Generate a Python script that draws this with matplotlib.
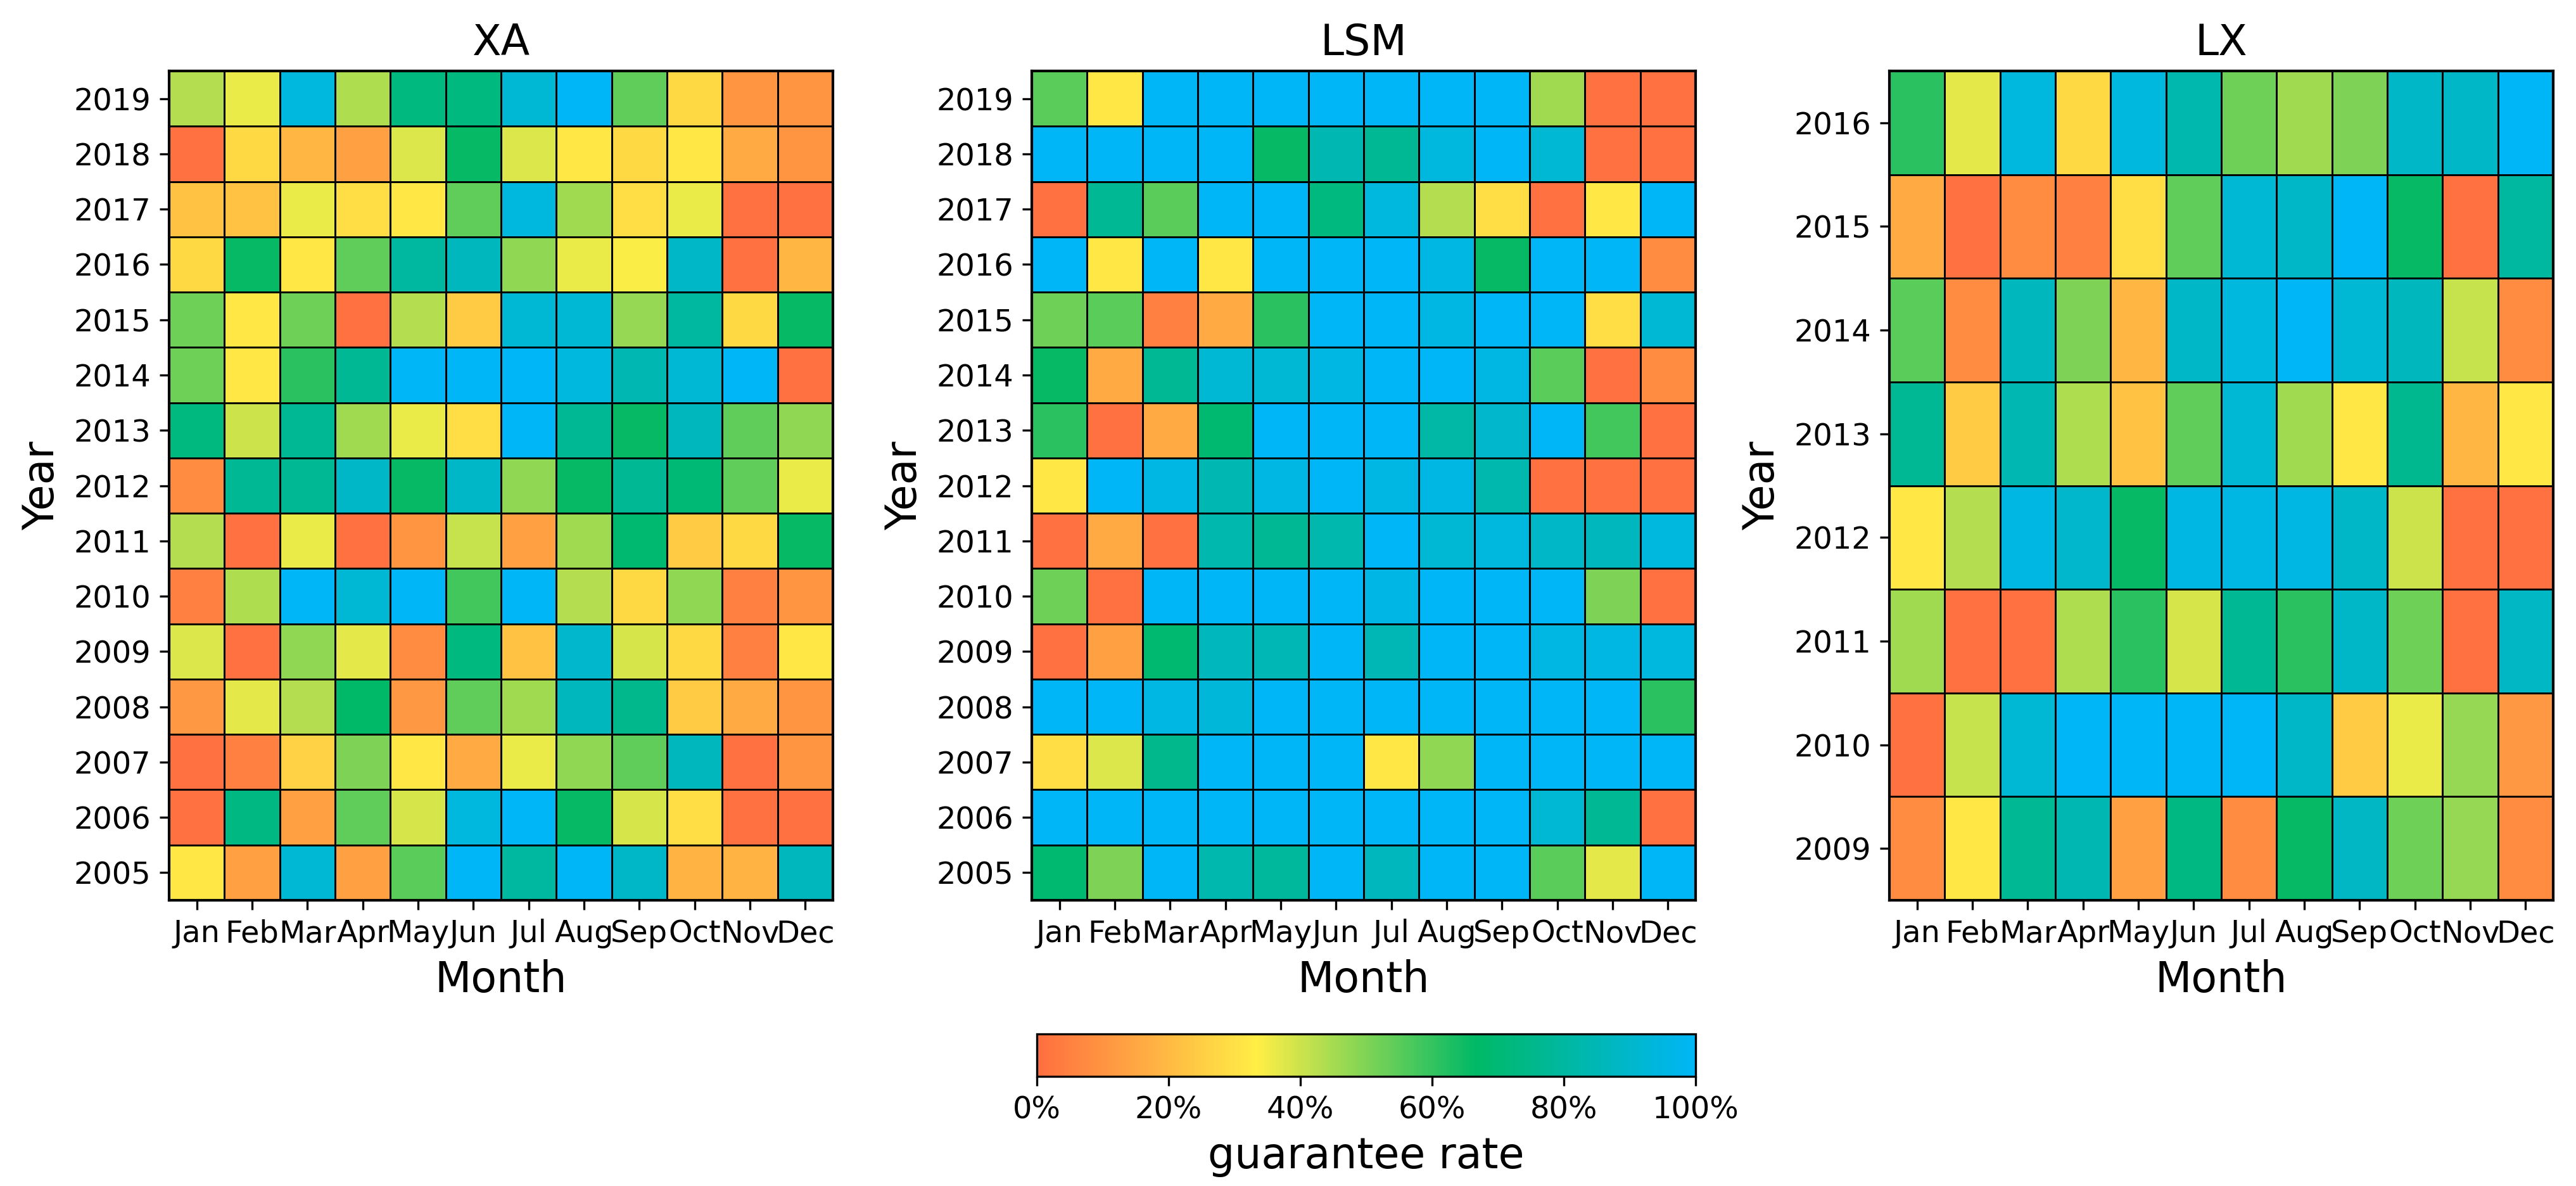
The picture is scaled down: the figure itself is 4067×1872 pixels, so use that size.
import numpy as np
import matplotlib
matplotlib.use("Agg")
import matplotlib.pyplot as plt
from matplotlib.colors import LinearSegmentedColormap
from matplotlib.ticker import FuncFormatter

months = ['Jan', 'Feb', 'Mar', 'Apr', 'May', 'Jun', 'Jul', 'Aug', 'Sep', 'Oct', 'Nov', 'Dec']

# guarantee rate (%), rows listed from the latest year (top) to the earliest (bottom)
xa_years = [2019, 2018, 2017, 2016, 2015, 2014, 2013, 2012, 2011, 2010, 2009, 2008, 2007, 2006, 2005]
xa_rates = [
    [43, 36, 94, 44, 72, 72, 92, 100, 54, 28, 10, 10],
    [1, 28, 19, 13, 38, 66, 38, 32, 28, 32, 16, 10],
    [22, 22, 36, 29, 32, 54, 94, 46, 29, 36, 1, 1],
    [28, 66, 32, 54, 80, 87, 48, 36, 34, 89, 1, 19],
    [52, 32, 52, 1, 43, 24, 92, 92, 47, 80, 28, 66],
    [52, 32, 61, 77, 100, 100, 100, 94, 84, 92, 100, 1],
    [72, 40, 77, 46, 36, 29, 100, 77, 66, 87, 54, 48],
    [8, 77, 77, 89, 66, 89, 48, 66, 77, 70, 54, 36],
    [43, 1, 36, 1, 10, 41, 13, 46, 69, 24, 28, 66],
    [5, 44, 100, 92, 100, 58, 100, 43, 28, 48, 5, 10],
    [38, 1, 48, 37, 8, 72, 22, 90, 39, 28, 5, 32],
    [11, 37, 43, 67, 11, 54, 46, 87, 75, 24, 16, 10],
    [1, 5, 26, 50, 32, 16, 36, 48, 54, 87, 1, 10],
    [1, 73, 13, 54, 39, 94, 100, 66, 39, 29, 1, 1],
    [32, 13, 92, 13, 55, 100, 80, 100, 89, 18, 18, 87],
]

lsm_years = [2019, 2018, 2017, 2016, 2015, 2014, 2013, 2012, 2011, 2010, 2009, 2008, 2007, 2006, 2005]
lsm_rates = [
    [55, 32, 100, 100, 100, 100, 100, 100, 100, 46, 1, 1],
    [100, 100, 100, 100, 66, 84, 77, 94, 100, 92, 1, 1],
    [1, 77, 55, 100, 100, 72, 94, 43, 29, 1, 32, 100],
    [100, 32, 100, 32, 100, 100, 100, 95, 66, 100, 100, 8],
    [52, 55, 5, 16, 61, 100, 100, 95, 100, 100, 29, 92],
    [66, 16, 77, 92, 92, 95, 100, 100, 95, 55, 1, 8],
    [61, 1, 16, 69, 100, 100, 100, 81, 90, 100, 58, 1],
    [32, 100, 95, 84, 95, 100, 95, 95, 83, 1, 1, 1],
    [1, 16, 1, 83, 77, 83, 100, 92, 94, 89, 87, 94],
    [52, 1, 100, 100, 100, 100, 96, 100, 100, 100, 50, 1],
    [1, 13, 69, 87, 85, 100, 85, 100, 100, 95, 95, 94],
    [100, 100, 95, 93, 100, 100, 100, 100, 100, 100, 100, 61],
    [29, 38, 75, 100, 100, 100, 32, 48, 100, 100, 100, 100],
    [100, 100, 100, 100, 100, 100, 100, 100, 100, 92, 77, 1],
    [69, 50, 100, 83, 79, 100, 87, 100, 100, 55, 37, 100],
]

lx_years = [2016, 2015, 2014, 2013, 2012, 2011, 2010, 2009]
lx_rates = [
    [61, 37, 94, 28, 94, 83, 52, 46, 50, 89, 89, 100],
    [16, 1, 8, 5, 29, 54, 92, 89, 100, 66, 1, 80],
    [55, 8, 87, 50, 19, 89, 94, 100, 92, 87, 41, 8],
    [77, 24, 84, 44, 22, 54, 92, 46, 32, 76, 19, 32],
    [32, 43, 95, 90, 66, 95, 95, 95, 89, 40, 1, 1],
    [46, 1, 1, 44, 61, 39, 77, 61, 89, 52, 1, 88],
    [1, 41, 92, 100, 100, 100, 100, 89, 24, 36, 47, 11],
    [8, 32, 77, 84, 13, 73, 8, 66, 88, 52, 47, 8],
]

cmap = LinearSegmentedColormap.from_list(
    'guarantee',
    [(0.0, '#FF6E40'), (1/3, '#FFEE45'), (2/3, '#00B966'), (1.0, '#00B6F6')])

W, H = 4067, 1872
fig = plt.figure(figsize=(W / 300, H / 300), dpi=300)

panels = [('XA', xa_years, xa_rates, 267),
          ('LSM', lsm_years, lsm_rates, 1629),
          ('LX', lx_years, lx_rates, 2983)]

mesh = None
for name, years, rates, left_px in panels:
    ax = fig.add_axes([left_px / W, 1 - 1421 / H, 1048 / W, 1309 / H])
    data = np.array(rates, dtype=float)
    mesh = ax.pcolormesh(np.arange(len(months) + 1), np.arange(len(years) + 1), data,
                         cmap=cmap, vmin=0, vmax=100,
                         edgecolors='black', linewidth=0.7)
    ax.set_xlim(0, len(months))
    ax.set_ylim(len(years), 0)
    ax.set_xticks(np.arange(len(months)) + 0.5)
    ax.set_xticklabels(months, fontsize=11.5)
    ax.set_yticks(np.arange(len(years)) + 0.5)
    ax.set_yticklabels([str(y) for y in years], fontsize=11.5)
    ax.set_title(name, fontsize=16)
    ax.set_xlabel('Month', fontsize=16)
    ax.set_ylabel('Year', fontsize=16)
    for s in ax.spines.values():
        s.set_linewidth(1.0)

cax = fig.add_axes([1637 / W, 1 - 1699 / H, 1040 / W, 67 / H])
cb = fig.colorbar(mesh, cax=cax, orientation='horizontal', ticks=[0, 20, 40, 60, 80, 100])
cb.ax.xaxis.set_major_formatter(FuncFormatter(lambda v, p: f'{v:.0f}%'))
cb.ax.tick_params(labelsize=11.5)
cb.set_label('guarantee rate', fontsize=16)

fig.savefig('out.png', dpi=300)
